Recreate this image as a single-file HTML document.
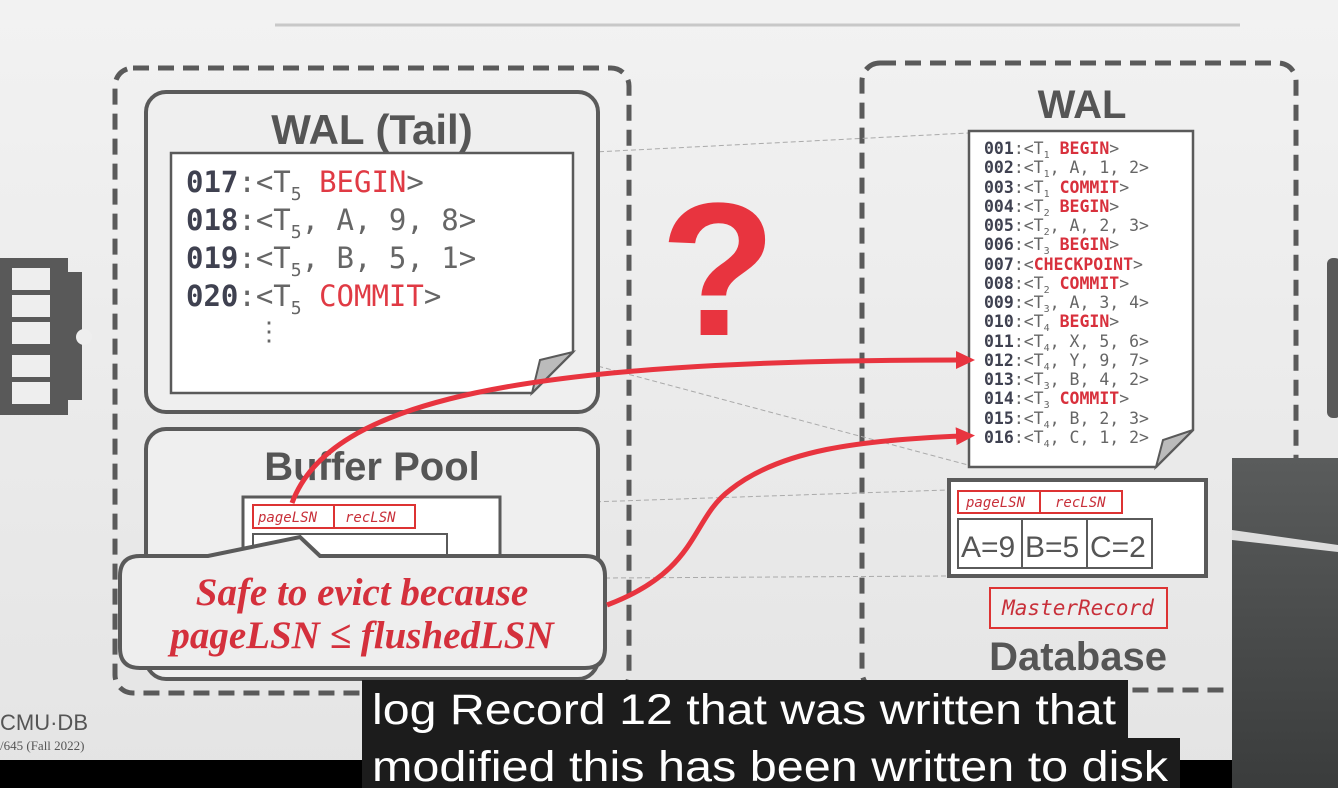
<!DOCTYPE html>
<html><head><meta charset="utf-8"><style>
html,body{margin:0;padding:0;width:1338px;height:788px;overflow:hidden;background:#eeeeee}
svg{display:block}
.m{font-family:"DejaVu Sans Mono","Liberation Mono",monospace}
.s{font-family:"Liberation Sans",sans-serif}
</style></head><body>
<svg width="1338" height="788" viewBox="0 0 1338 788" xmlns="http://www.w3.org/2000/svg">
<defs>
<linearGradient id="bg" x1="0" y1="0" x2="0" y2="1"><stop offset="0" stop-color="#f2f2f2"/><stop offset="1" stop-color="#e4e4e4"/></linearGradient>
<linearGradient id="ph" x1="0" y1="0" x2="0" y2="1"><stop offset="0" stop-color="#5a5c5c"/><stop offset="1" stop-color="#3a3c3c"/></linearGradient>
<marker id="ah" markerWidth="20" markerHeight="20" refX="6" refY="10" orient="auto" markerUnits="userSpaceOnUse"><path d="M0,1 L19,10 L0,19 z" fill="#e8343f"/></marker>
</defs>
<rect width="1338" height="788" fill="url(#bg)"/>
<line x1="275" y1="25" x2="1240" y2="25" stroke="#c8c8c8" stroke-width="3"/>
<g fill="#595959">
<rect x="0" y="258" width="68" height="157"/>
<rect x="68" y="272" width="14" height="128"/>
</g>
<g fill="#eee">
<rect x="12" y="268" width="38" height="22"/><rect x="12" y="295" width="38" height="22"/><rect x="12" y="322" width="38" height="22"/>
<rect x="12" y="355" width="38" height="22"/><rect x="12" y="382" width="38" height="22"/>
<circle cx="84" cy="337" r="8"/>
</g>
<rect x="1327" y="258" width="14" height="160" rx="6" fill="#595959"/>
<rect x="115" y="68" width="514" height="625" rx="18" fill="none" stroke="#5a5a5a" stroke-width="5" stroke-dasharray="16,9"/>
<rect x="862" y="63" width="434" height="627" rx="18" fill="none" stroke="#5a5a5a" stroke-width="5" stroke-dasharray="16,9"/>
<g stroke="#aaa" stroke-width="1" stroke-dasharray="5,3" fill="none">
<line x1="575" y1="153" x2="968" y2="133"/>
<line x1="575" y1="360" x2="968" y2="465"/>
<line x1="500" y1="505" x2="948" y2="490"/>
<line x1="605" y1="578" x2="948" y2="576"/>
</g>
<rect x="146" y="92" width="452" height="320" rx="20" fill="#efefef" stroke="#5a5a5a" stroke-width="4"/>
<text x="372" y="144" text-anchor="middle" class="s" font-weight="bold" font-size="42" fill="#555">WAL (Tail)</text>
<path d="M171,153 H573 V352 L532,393 H171 Z" fill="#fff" stroke="#5a5a5a" stroke-width="2.5"/>
<path d="M573,352 L540,360 L532,393 Z" fill="#bbb" stroke="#5a5a5a" stroke-width="2"/>
<g class="m" font-size="29" fill="#666">
<text x="186" y="192"><tspan font-weight="bold" fill="#3f4150">017</tspan>:&lt;T<tspan font-size="18" dy="8">5</tspan> <tspan dy="-8" fill="#e03a44">BEGIN</tspan>&gt;</text>
<text x="186" y="230"><tspan font-weight="bold" fill="#3f4150">018</tspan>:&lt;T<tspan font-size="18" dy="8">5</tspan><tspan dy="-8">, A, 9, 8&gt;</tspan></text>
<text x="186" y="268"><tspan font-weight="bold" fill="#3f4150">019</tspan>:&lt;T<tspan font-size="18" dy="8">5</tspan><tspan dy="-8">, B, 5, 1&gt;</tspan></text>
<text x="186" y="306"><tspan font-weight="bold" fill="#3f4150">020</tspan>:&lt;T<tspan font-size="18" dy="8">5</tspan> <tspan dy="-8" fill="#e03a44">COMMIT</tspan>&gt;</text>
<text x="256" y="340" font-size="26">⋮</text>
</g>
<rect x="146" y="429" width="452" height="250" rx="20" fill="#efefef" stroke="#5a5a5a" stroke-width="4"/>
<text x="372" y="480" text-anchor="middle" class="s" font-weight="bold" font-size="40" fill="#555">Buffer Pool</text>
<rect x="243" y="497" width="257" height="80" fill="#fff" stroke="#5a5a5a" stroke-width="3"/>
<rect x="253" y="505" width="162" height="23" fill="#fff" stroke="#d33" stroke-width="2"/>
<line x1="334" y1="505" x2="334" y2="528" stroke="#d33" stroke-width="2"/>
<g class="m" font-style="italic" font-size="14" fill="#c8303a"><text x="258" y="522">pageLSN</text><text x="345" y="522">recLSN</text></g>
<rect x="253" y="534" width="194" height="40" fill="#fff" stroke="#5a5a5a" stroke-width="2"/>
<text x="718" y="335" text-anchor="middle" class="s" font-weight="bold" font-size="190" fill="#e8343f">?</text>
<text x="1082" y="118" text-anchor="middle" class="s" font-weight="bold" font-size="40" fill="#555">WAL</text>
<path d="M969,131 H1193 V430 L1156,467 H969 Z" fill="#fff" stroke="#5a5a5a" stroke-width="2.5"/>
<path d="M1193,430 L1163,440 L1156,467 Z" fill="#bbb" stroke="#5a5a5a" stroke-width="2"/>
<g class="m" font-size="16.5" fill="#666">
<text x="984" y="154"><tspan font-weight="bold" fill="#3f4150">001</tspan>:&lt;T<tspan font-size="10" dy="4">1</tspan> <tspan dy="-4" font-weight="bold" fill="#d8303c">BEGIN</tspan>&gt;</text>
<text x="984" y="173"><tspan font-weight="bold" fill="#3f4150">002</tspan>:&lt;T<tspan font-size="10" dy="4">1</tspan><tspan dy="-4">, A, 1, 2&gt;</tspan></text>
<text x="984" y="193"><tspan font-weight="bold" fill="#3f4150">003</tspan>:&lt;T<tspan font-size="10" dy="4">1</tspan> <tspan dy="-4" font-weight="bold" fill="#d8303c">COMMIT</tspan>&gt;</text>
<text x="984" y="212"><tspan font-weight="bold" fill="#3f4150">004</tspan>:&lt;T<tspan font-size="10" dy="4">2</tspan> <tspan dy="-4" font-weight="bold" fill="#d8303c">BEGIN</tspan>&gt;</text>
<text x="984" y="231"><tspan font-weight="bold" fill="#3f4150">005</tspan>:&lt;T<tspan font-size="10" dy="4">2</tspan><tspan dy="-4">, A, 2, 3&gt;</tspan></text>
<text x="984" y="250"><tspan font-weight="bold" fill="#3f4150">006</tspan>:&lt;T<tspan font-size="10" dy="4">3</tspan> <tspan dy="-4" font-weight="bold" fill="#d8303c">BEGIN</tspan>&gt;</text>
<text x="984" y="270"><tspan font-weight="bold" fill="#3f4150">007</tspan>:&lt;<tspan font-weight="bold" fill="#d8303c">CHECKPOINT</tspan>&gt;</text>
<text x="984" y="289"><tspan font-weight="bold" fill="#3f4150">008</tspan>:&lt;T<tspan font-size="10" dy="4">2</tspan> <tspan dy="-4" font-weight="bold" fill="#d8303c">COMMIT</tspan>&gt;</text>
<text x="984" y="308"><tspan font-weight="bold" fill="#3f4150">009</tspan>:&lt;T<tspan font-size="10" dy="4">3</tspan><tspan dy="-4">, A, 3, 4&gt;</tspan></text>
<text x="984" y="327"><tspan font-weight="bold" fill="#3f4150">010</tspan>:&lt;T<tspan font-size="10" dy="4">4</tspan> <tspan dy="-4" font-weight="bold" fill="#d8303c">BEGIN</tspan>&gt;</text>
<text x="984" y="347"><tspan font-weight="bold" fill="#3f4150">011</tspan>:&lt;T<tspan font-size="10" dy="4">4</tspan><tspan dy="-4">, X, 5, 6&gt;</tspan></text>
<text x="984" y="366"><tspan font-weight="bold" fill="#3f4150">012</tspan>:&lt;T<tspan font-size="10" dy="4">4</tspan><tspan dy="-4">, Y, 9, 7&gt;</tspan></text>
<text x="984" y="385"><tspan font-weight="bold" fill="#3f4150">013</tspan>:&lt;T<tspan font-size="10" dy="4">3</tspan><tspan dy="-4">, B, 4, 2&gt;</tspan></text>
<text x="984" y="404"><tspan font-weight="bold" fill="#3f4150">014</tspan>:&lt;T<tspan font-size="10" dy="4">3</tspan> <tspan dy="-4" font-weight="bold" fill="#d8303c">COMMIT</tspan>&gt;</text>
<text x="984" y="424"><tspan font-weight="bold" fill="#3f4150">015</tspan>:&lt;T<tspan font-size="10" dy="4">4</tspan><tspan dy="-4">, B, 2, 3&gt;</tspan></text>
<text x="984" y="443"><tspan font-weight="bold" fill="#3f4150">016</tspan>:&lt;T<tspan font-size="10" dy="4">4</tspan><tspan dy="-4">, C, 1, 2&gt;</tspan></text>
</g>
<rect x="949" y="480" width="257" height="96" fill="#fff" stroke="#5a5a5a" stroke-width="4"/>
<rect x="958" y="491" width="164" height="22" fill="#fff" stroke="#d33" stroke-width="2"/>
<line x1="1040" y1="491" x2="1040" y2="513" stroke="#d33" stroke-width="2"/>
<g class="m" font-style="italic" font-size="14" fill="#c8303a"><text x="966" y="507">pageLSN</text><text x="1055" y="507">recLSN</text></g>
<rect x="958" y="519" width="194" height="49" fill="#fff" stroke="#5a5a5a" stroke-width="2"/>
<line x1="1022" y1="519" x2="1022" y2="568" stroke="#5a5a5a" stroke-width="2"/>
<line x1="1087" y1="519" x2="1087" y2="568" stroke="#5a5a5a" stroke-width="2"/>
<g class="s" font-size="30" fill="#555"><text x="961" y="557">A=9</text><text x="1025" y="557">B=5</text><text x="1090" y="557">C=2</text></g>
<rect x="990" y="588" width="177" height="40" fill="#eee" stroke="#d33" stroke-width="2"/>
<text x="1078" y="615" text-anchor="middle" class="m" font-style="italic" font-size="21" fill="#c8303a">MasterRecord</text>
<text x="1078" y="670" text-anchor="middle" class="s" font-weight="bold" font-size="40" fill="#555">Database</text>
<path d="M140,556 H208 L300,537 L320,556 H585 Q605,556 605,576 V648 Q605,668 585,668 H140 Q120,668 120,648 V576 Q120,556 140,556 Z" fill="#eeeeee" stroke="#5a5a5a" stroke-width="4"/>
<g font-family="'Liberation Serif',serif" font-style="italic" font-weight="bold" font-size="39" fill="#d4303c" text-anchor="middle">
<text x="362" y="605">Safe to evict because</text>
<text x="362" y="648">pageLSN ≤ flushedLSN</text>
</g>
<path d="M292,503 C330,400 520,360 962,360" fill="none" stroke="#e8343f" stroke-width="5" marker-end="url(#ah)"/>
<path d="M607,605 C700,570 690,520 730,490 C780,450 860,440 962,436" fill="none" stroke="#e8343f" stroke-width="5" marker-end="url(#ah)"/>
<text x="0" y="730" class="s" font-size="22" fill="#555">CMU·DB</text>
<text x="0" y="750" font-family="'Liberation Serif',serif" font-size="13" fill="#555">/645 (Fall 2022)</text>
<rect x="1232" y="458" width="106" height="330" fill="url(#ph)"/>
<path d="M1232,530 L1338,545 L1338,552 L1232,540 Z" fill="#ddd"/>
<rect x="0" y="760" width="1232" height="28" fill="#000"/>
<rect x="362" y="680" width="766" height="58" fill="#1c1c1c"/>
<rect x="362" y="738" width="818" height="50" fill="#1c1c1c"/>
<g class="s" font-size="43" fill="#fff">
<text x="372" y="724" textLength="744" lengthAdjust="spacingAndGlyphs">log Record 12 that was written that</text>
<text x="372" y="781" textLength="796" lengthAdjust="spacingAndGlyphs">modified this has been written to disk</text>
</g>
</svg>
</body></html>
